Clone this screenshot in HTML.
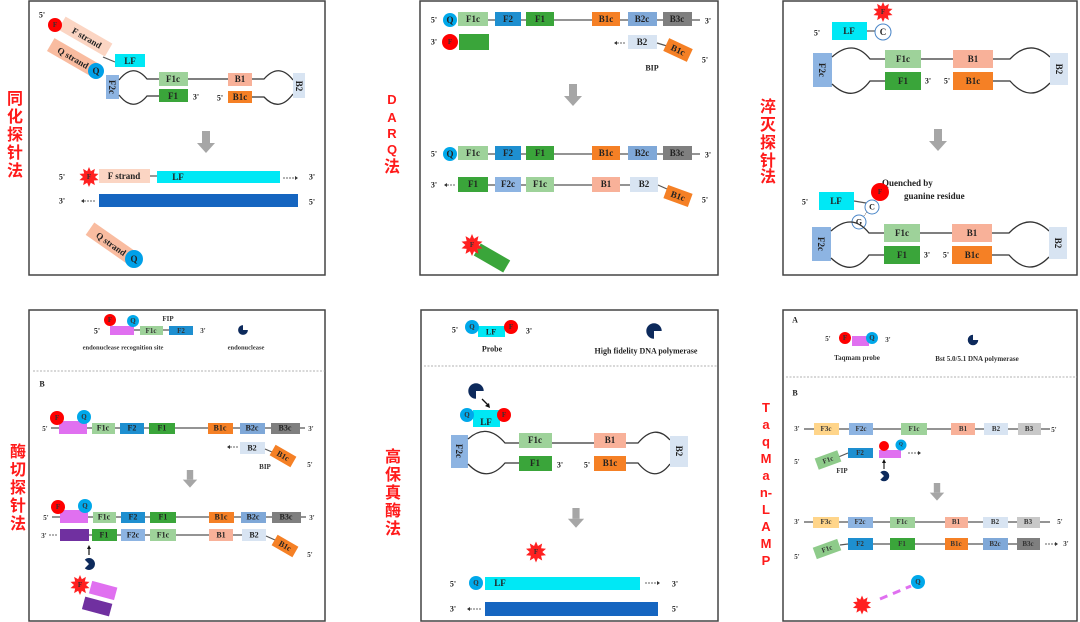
<!DOCTYPE html>
<html><head><meta charset="utf-8"><style>
html,body{margin:0;padding:0;background:#fff;}
svg{display:block;}
.t{font-family:"Liberation Serif",serif;font-weight:bold;font-size:9px;fill:#222;text-anchor:middle;dominant-baseline:central;}
.s{font-family:"Liberation Serif",serif;font-weight:bold;font-size:8px;fill:#222;text-anchor:middle;dominant-baseline:central;}
.x{font-family:"Liberation Serif",serif;font-weight:bold;font-size:7px;fill:#333;text-anchor:middle;dominant-baseline:central;}
.cn{font-family:"Liberation Sans","Noto Sans CJK SC",sans-serif;font-weight:bold;font-size:16px;fill:#ff1a1a;text-anchor:middle;}
.ln{stroke:#555;stroke-width:1.2;fill:none;}
.lp{stroke:#333;stroke-width:1.3;fill:none;}
.fr{fill:none;stroke:#444;stroke-width:1.5;}
</style></head><body>
<svg width="1080" height="622" viewBox="0 0 1080 622" xmlns="http://www.w3.org/2000/svg">
<defs>
<polygon id="star" points="0,-10 1.85,-5.71 5.88,-8.09 4.85,-3.53 9.51,-3.09 6,0 9.51,3.09 4.85,3.53 5.88,8.09 1.85,5.71 0,10 -1.85,5.71 -5.88,8.09 -4.85,3.53 -9.51,3.09 -6,0 -9.51,-3.09 -4.85,-3.53 -5.88,-8.09 -1.85,-5.71" fill="#ff2020"/>
<path id="pac" d="M0,0 L7,0 A7,7 0 1,1 0,-7 Z" fill="#0d2a5c"/>
<g id="garrow"><rect x="-4" y="0" width="8" height="12" fill="#a6a6a6"/><polygon points="-9,12 9,12 0,22" fill="#a6a6a6"/></g>
</defs>

<!-- frames -->
<rect class="fr" x="29" y="1" width="296" height="274"/>
<rect class="fr" x="420" y="1" width="298" height="274"/>
<rect class="fr" x="783" y="1" width="294" height="274"/>
<rect class="fr" x="29" y="310" width="296" height="311"/>
<rect class="fr" x="421" y="310" width="297" height="311"/>
<rect class="fr" x="783" y="310" width="294" height="311"/>

<!-- Chinese labels -->
<g class="cn">
<text x="15" y="104">同</text><text x="15" y="122">化</text><text x="15" y="140">探</text><text x="15" y="158">针</text><text x="15" y="176">法</text>
<text x="392" y="104" style="font-size:13px">D</text><text x="392" y="122" style="font-size:13px">A</text><text x="392" y="138" style="font-size:13px">R</text><text x="392" y="154" style="font-size:13px">Q</text><text x="392" y="172">法</text>
<text x="768" y="112">淬</text><text x="768" y="130">灭</text><text x="768" y="148">探</text><text x="768" y="166">针</text><text x="768" y="182">法</text>
<text x="18" y="457">酶</text><text x="18" y="475">切</text><text x="18" y="493">探</text><text x="18" y="511">针</text><text x="18" y="529">法</text>
<text x="393" y="462">高</text><text x="393" y="480">保</text><text x="393" y="498">真</text><text x="393" y="516">酶</text><text x="393" y="534">法</text>
<g style="font-size:13px"><text x="766" y="412">T</text><text x="766" y="429">a</text><text x="766" y="446">q</text><text x="766" y="463">M</text><text x="766" y="480">a</text><text x="766" y="497">n-</text><text x="766" y="514">L</text><text x="766" y="531">A</text><text x="766" y="548">M</text><text x="766" y="565">P</text></g>
</g>

<!-- ===== Panel 1 ===== -->
<text class="s" x="42" y="15">5'</text>
<g transform="translate(85,37) rotate(30)"><rect x="-27" y="-8" width="54" height="15" fill="#fbd5c3"/><text class="t" x="2" y="0">F strand</text></g>
<circle cx="55" cy="25" r="7" fill="#f00"/><text class="x" x="55" y="25">F</text>
<g transform="translate(73,58) rotate(30)"><rect x="-26" y="-8" width="52" height="15" fill="#f9bca0"/><text class="t" x="0" y="0">Q strand</text></g>
<circle cx="96" cy="71" r="8" fill="#00a0e8"/><text class="t" x="96" y="71">Q</text>
<line class="ln" x1="103" y1="57" x2="115" y2="62"/>
<rect x="115" y="54" width="30" height="13" fill="#00e8f5"/><text class="t" x="130" y="61">LF</text>
<rect x="106" y="75" width="13" height="24" fill="#8db4e2"/><text class="t" transform="translate(112,87) rotate(90)">F2c</text>
<path class="lp" d="M119,80 Q133,62 147,79 L159,79 M119,95 Q133,113 147,96 L159,96 M188,79 L228,79 M252,79 L264,79 Q279,62 293,80 M252,97 L264,97 Q279,113 293,94"/>
<rect x="159" y="72" width="29" height="14" fill="#9ed29a"/><text class="t" x="173" y="79">F1c</text>
<rect x="159" y="89" width="29" height="13" fill="#3aa53a"/><text class="t" x="173" y="96">F1</text>
<text class="s" x="196" y="97">3'</text><text class="s" x="220" y="98">5'</text>
<rect x="228" y="73" width="24" height="13" fill="#f8b199"/><text class="t" x="240" y="79">B1</text>
<rect x="228" y="91" width="24" height="12" fill="#f58025"/><text class="t" x="240" y="97">B1c</text>
<rect x="293" y="73" width="12" height="25" fill="#d8e4f2"/><text class="t" transform="translate(299,86) rotate(90)">B2</text>
<use href="#garrow" transform="translate(206,131)"/>
<text class="s" x="62" y="177">5'</text>
<use href="#star" transform="translate(89,177)"/><text class="x" x="89" y="177">F</text>
<rect x="99" y="169" width="51" height="14" fill="#fbd5c3"/><text class="t" x="124" y="176">F strand</text>
<line class="ln" x1="150" y1="176" x2="157" y2="176"/>
<rect x="157" y="171" width="123" height="12" fill="#00e8f5"/><text class="t" x="178" y="177">LF</text>
<line x1="283" y1="178" x2="295" y2="178" stroke="#333" stroke-width="0.8" stroke-dasharray="2,1"/><polygon points="295,176 298,178 295,180" fill="#333"/>
<text class="s" x="312" y="177">3'</text>
<text class="s" x="62" y="201">3'</text>
<line x1="84" y1="201" x2="96" y2="201" stroke="#333" stroke-width="0.8" stroke-dasharray="2,1"/><polygon points="84,199 81,201 84,203" fill="#333"/>
<rect x="99" y="194" width="199" height="13" fill="#1565c0"/>
<text class="s" x="312" y="202">5'</text>
<g transform="translate(111,244) rotate(35)"><rect x="-26" y="-8" width="52" height="15" fill="#f9bca0"/><text class="t" x="0" y="0">Q strand</text></g>
<circle cx="134" cy="259" r="9" fill="#00a0e8"/><text class="t" x="134" y="259">Q</text>

<!-- ===== Panel 2 ===== -->
<g id="darqrow">
<text class="s" x="434" y="20">5'</text>
<circle cx="450" cy="20" r="7" fill="#00a8ea"/><text class="t" x="450" y="20">Q</text>
<line class="ln" x1="458" y1="20" x2="700" y2="20"/>
<rect x="458" y="12" width="30" height="14" fill="#9ed29a"/><text class="t" x="473" y="19">F1c</text>
<rect x="495" y="12" width="26" height="14" fill="#1e8fd0"/><text class="t" x="508" y="19">F2</text>
<rect x="526" y="12" width="28" height="14" fill="#3aa53a"/><text class="t" x="540" y="19">F1</text>
<rect x="592" y="12" width="28" height="14" fill="#f58025"/><text class="t" x="606" y="19">B1c</text>
<rect x="628" y="12" width="29" height="14" fill="#7fa8d8"/><text class="t" x="642" y="19">B2c</text>
<rect x="663" y="12" width="29" height="14" fill="#7f7f7f"/><text class="t" x="677" y="19">B3c</text>
<text class="s" x="708" y="21">3'</text>
</g>
<text class="s" x="434" y="42">3'</text>
<rect x="459" y="34" width="30" height="16" fill="#3aa53a"/>
<circle cx="450" cy="42" r="8" fill="#f00"/><text class="x" x="450" y="42">F</text>
<line x1="617" y1="43" x2="626" y2="43" stroke="#333" stroke-width="0.8" stroke-dasharray="2,1"/><polygon points="617,41 614,43 617,45" fill="#333"/>
<rect x="628" y="35" width="29" height="14" fill="#d8e4f2"/><text class="t" x="642" y="42">B2</text>
<line class="ln" x1="657" y1="43" x2="667" y2="46"/>
<g transform="translate(678,50) rotate(25)"><rect x="-13" y="-7" width="26" height="14" fill="#f58025"/><text class="t" x="0" y="0">B1c</text></g>
<text class="s" x="705" y="60">5'</text><text class="s" x="652" y="68">BIP</text>
<use href="#garrow" transform="translate(573,84)"/>
<use href="#darqrow" transform="translate(0,134)"/>
<text class="s" x="434" y="185">3'</text>
<line x1="447" y1="185" x2="456" y2="185" stroke="#333" stroke-width="0.8" stroke-dasharray="2,1"/><polygon points="447,183 444,185 447,187" fill="#333"/>
<line class="ln" x1="488" y1="185" x2="630" y2="185"/>
<rect x="458" y="177" width="30" height="15" fill="#3aa53a"/><text class="t" x="473" y="184">F1</text>
<rect x="495" y="177" width="26" height="15" fill="#8db4e2"/><text class="t" x="508" y="184">F2c</text>
<rect x="526" y="177" width="28" height="15" fill="#9ed29a"/><text class="t" x="540" y="184">F1c</text>
<rect x="592" y="177" width="28" height="15" fill="#f8b199"/><text class="t" x="606" y="184">B1</text>
<rect x="630" y="177" width="28" height="15" fill="#d8e4f2"/><text class="t" x="644" y="184">B2</text>
<line class="ln" x1="658" y1="185" x2="667" y2="189"/>
<g transform="translate(678,196) rotate(20)"><rect x="-13" y="-7" width="26" height="14" fill="#f58025"/><text class="t" x="0" y="0">B1c</text></g>
<text class="s" x="705" y="200">5'</text>
<g transform="translate(492,258) rotate(30)"><rect x="-17" y="-7" width="34" height="14" fill="#3aa53a"/></g>
<use href="#star" transform="translate(472,245) scale(1.1)"/><text class="x" x="472" y="245">F</text>

<!-- ===== Panel 3 ===== -->
<text class="s" x="817" y="33">5'</text>
<rect x="832" y="22" width="35" height="18" fill="#00e8f5"/><text class="t" x="849" y="31">LF</text>
<line class="ln" x1="867" y1="31" x2="875" y2="31"/>
<circle cx="883" cy="32" r="8" fill="#fff" stroke="#4a86c8" stroke-width="1"/><text class="t" x="883" y="32">C</text>
<use href="#star" transform="translate(883,12)"/><text class="x" x="883" y="12">F</text>
<g id="p3loop">
<rect x="813" y="53" width="19" height="34" fill="#8db4e2"/><text class="t" transform="translate(822,70) rotate(90)">F2c</text>
<path class="lp" d="M832,57 Q853,38 870,59 L885,59 M832,84 Q853,104 870,81 L885,81 M921,59 L953,59 M993,59 L1010,59 Q1030,38 1050,57 M993,81 L1010,81 Q1030,104 1050,83"/>
<rect x="885" y="50" width="36" height="18" fill="#9ed29a"/><text class="t" x="903" y="59">F1c</text>
<rect x="885" y="72" width="36" height="18" fill="#3aa53a"/><text class="t" x="903" y="81">F1</text>
<text class="s" x="928" y="81">3'</text><text class="s" x="947" y="81">5'</text>
<rect x="953" y="50" width="40" height="18" fill="#f8b199"/><text class="t" x="973" y="59">B1</text>
<rect x="953" y="72" width="40" height="18" fill="#f58025"/><text class="t" x="973" y="81">B1c</text>
<rect x="1050" y="53" width="18" height="32" fill="#d8e4f2"/><text class="t" transform="translate(1059,69) rotate(90)">B2</text>
</g>
<use href="#garrow" transform="translate(938,129)"/>
<text class="t" x="882" y="183" style="text-anchor:start">Quenched by</text>
<text class="t" x="904" y="196" style="text-anchor:start">guanine residue</text>
<text class="s" x="805" y="202">5'</text>
<rect x="819" y="192" width="35" height="18" fill="#00e8f5"/><text class="t" x="836" y="201">LF</text>
<line class="ln" x1="854" y1="201" x2="866" y2="203"/>
<circle cx="880" cy="192" r="9" fill="#f00"/><text class="x" x="880" y="192">F</text>
<circle cx="872" cy="207" r="7" fill="#fff" stroke="#4a86c8" stroke-width="1"/><text class="s" x="872" y="207">C</text>
<line x1="867" y1="212" x2="863" y2="217" stroke="#666" stroke-width="0.8" stroke-dasharray="1,1"/>
<circle cx="859" cy="222" r="7" fill="#fff" stroke="#4a86c8" stroke-width="1"/><text class="s" x="859" y="222">G</text>
<use href="#p3loop" transform="translate(-1,174)"/>

<!-- ===== Panel 4 ===== -->
<text class="s" x="97" y="331">5'</text>
<rect x="110" y="326" width="24" height="9" fill="#e070f0"/>
<circle cx="110" cy="320" r="6" fill="#f00"/><text class="x" x="110" y="320">F</text>
<circle cx="133" cy="321" r="6" fill="#00a8ea"/><text class="x" x="133" y="321">Q</text>
<line class="ln" x1="134" y1="330" x2="169" y2="330"/>
<rect x="140" y="326" width="23" height="9" fill="#9ed29a"/><text class="x" x="151" y="331">F1c</text>
<rect x="169" y="326" width="24" height="9" fill="#1e8fd0"/><text class="x" x="181" y="331">F2</text>
<text class="x" x="203" y="331">3'</text><text class="x" x="168" y="319">FIP</text>
<use href="#pac" transform="translate(243,330) scale(0.7)"/>
<text class="x" x="123" y="348" style="font-size:6.5px">endonuclease recognition site</text>
<text class="x" x="246" y="348" style="font-size:6.5px">endonuclease</text>
<line x1="33" y1="371" x2="325" y2="371" stroke="#999" stroke-width="0.8" stroke-dasharray="2,1.5"/>
<text class="s" x="42" y="384">B</text>
<g id="endrow">
<text class="x" x="45" y="429">5'</text>
<line class="ln" x1="51" y1="428" x2="305" y2="428"/>
<rect x="59" y="421" width="28" height="13" fill="#e070f0"/>
<circle cx="57" cy="418" r="7" fill="#f00"/><text class="x" x="57" y="418">F</text>
<circle cx="84" cy="417" r="7" fill="#00a8ea"/><text class="x" x="84" y="417">Q</text>
<rect x="92" y="423" width="23" height="11" fill="#9ed29a"/><text class="s" x="103" y="428">F1c</text>
<rect x="120" y="423" width="24" height="11" fill="#1e8fd0"/><text class="s" x="132" y="428">F2</text>
<rect x="149" y="423" width="26" height="11" fill="#3aa53a"/><text class="s" x="162" y="428">F1</text>
<rect x="208" y="423" width="25" height="11" fill="#f58025"/><text class="s" x="220" y="428">B1c</text>
<rect x="240" y="423" width="25" height="11" fill="#7fa8d8"/><text class="s" x="252" y="428">B2c</text>
<rect x="271" y="423" width="29" height="11" fill="#7f7f7f"/><text class="s" x="285" y="428">B3c</text>
<text class="x" x="311" y="429">3'</text>
</g>
<line x1="230" y1="447" x2="238" y2="447" stroke="#333" stroke-width="0.8" stroke-dasharray="2,1"/><polygon points="230,445 227,447 230,449" fill="#333"/>
<rect x="240" y="442" width="25" height="12" fill="#d8e4f2"/><text class="s" x="252" y="448">B2</text>
<line class="ln" x1="265" y1="449" x2="272" y2="452"/>
<g transform="translate(283,456) rotate(30)"><rect x="-12" y="-6" width="24" height="12" fill="#f58025"/><text class="s" x="0" y="0">B1c</text></g>
<text class="x" x="265" y="467">BIP</text><text class="x" x="310" y="465">5'</text>
<use href="#garrow" transform="translate(190,470) scale(0.8)"/>
<use href="#endrow" transform="translate(1,89)"/>
<text class="x" x="44" y="536">3'</text>
<line x1="49" y1="535" x2="58" y2="535" stroke="#333" stroke-width="0.8" stroke-dasharray="2,1"/>
<line class="ln" x1="89" y1="535" x2="250" y2="535"/>
<rect x="60" y="529" width="29" height="12" fill="#7030a0"/>
<rect x="92" y="529" width="25" height="12" fill="#3aa53a"/><text class="s" x="104" y="535">F1</text>
<rect x="121" y="529" width="24" height="12" fill="#8db4e2"/><text class="s" x="133" y="535">F2c</text>
<rect x="150" y="529" width="26" height="12" fill="#9ed29a"/><text class="s" x="163" y="535">F1c</text>
<rect x="209" y="529" width="24" height="12" fill="#f8b199"/><text class="s" x="221" y="535">B1</text>
<rect x="242" y="529" width="24" height="12" fill="#d8e4f2"/><text class="s" x="254" y="535">B2</text>
<line class="ln" x1="266" y1="536" x2="275" y2="540"/>
<g transform="translate(285,546) rotate(30)"><rect x="-12" y="-6" width="24" height="12" fill="#f58025"/><text class="s" x="0" y="0">B1c</text></g>
<text class="x" x="310" y="555">5'</text>
<line x1="89" y1="555" x2="89" y2="548" stroke="#111" stroke-width="1.2"/><polygon points="87,549 89,545 91,549" fill="#111"/>
<use href="#pac" transform="translate(89,564) rotate(-135) scale(0.85)"/>
<g transform="translate(103,591) rotate(15)"><rect x="-13" y="-7" width="26" height="13" fill="#e070f0"/></g>
<g transform="translate(97,607) rotate(15)"><rect x="-14" y="-7" width="28" height="13" fill="#7030a0"/></g>
<use href="#star" transform="translate(80,585)"/><text class="x" x="80" y="585">F</text>

<!-- ===== Panel 5 ===== -->
<text class="s" x="455" y="330">5'</text>
<rect x="478" y="326" width="27" height="11" fill="#00e8f5"/><text class="s" x="491" y="332">LF</text>
<circle cx="472" cy="327" r="7" fill="#00a8ea"/><text class="x" x="472" y="327">Q</text>
<circle cx="511" cy="327" r="7" fill="#f00"/><text class="x" x="511" y="327">F</text>
<text class="s" x="529" y="331">3'</text>
<text class="s" x="492" y="349">Probe</text>
<use href="#pac" transform="translate(654,331) rotate(90) scale(1.1)"/>
<text class="s" x="646" y="351">High fidelity DNA polymerase</text>
<line x1="424" y1="366" x2="718" y2="366" stroke="#999" stroke-width="0.8" stroke-dasharray="2,1.5"/>
<use href="#pac" transform="translate(476,391) rotate(90) scale(1.1)"/>
<line x1="482" y1="399" x2="488" y2="405" stroke="#111" stroke-width="1.3"/><polygon points="485,406 490,408 489,403" fill="#111"/>
<rect x="473" y="410" width="27" height="17" fill="#00e8f5"/><text class="t" x="486" y="422">LF</text>
<circle cx="467" cy="415" r="7" fill="#00a8ea"/><text class="x" x="467" y="415">Q</text>
<circle cx="504" cy="415" r="7" fill="#f00"/><text class="x" x="504" y="415">F</text>
<rect x="451" y="435" width="17" height="33" fill="#8db4e2"/><text class="t" transform="translate(459,451) rotate(90)">F2c</text>
<path class="lp" d="M468,439 Q487,422 505,443 L519,443 M468,464 Q487,484 505,463 L519,463 M552,443 L594,443 M626,443 L638,443 Q655,423 670,440 M626,463 L638,463 Q655,484 670,464"/>
<rect x="519" y="433" width="33" height="15" fill="#9ed29a"/><text class="t" x="535" y="440">F1c</text>
<rect x="519" y="456" width="33" height="15" fill="#3aa53a"/><text class="t" x="535" y="463">F1</text>
<text class="s" x="560" y="465">3'</text><text class="s" x="587" y="465">5'</text>
<rect x="594" y="433" width="32" height="15" fill="#f8b199"/><text class="t" x="610" y="440">B1</text>
<rect x="594" y="456" width="32" height="15" fill="#f58025"/><text class="t" x="610" y="463">B1c</text>
<rect x="670" y="436" width="18" height="31" fill="#d8e4f2"/><text class="t" transform="translate(679,451) rotate(90)">B2</text>
<use href="#garrow" transform="translate(576,508) scale(0.9)"/>
<use href="#star" transform="translate(536,552) scale(1.05)"/><text class="x" x="536" y="552">F</text>
<text class="s" x="453" y="584">5'</text>
<rect x="485" y="577" width="155" height="13" fill="#00e8f5"/><text class="t" x="500" y="583">LF</text>
<circle cx="476" cy="583" r="7" fill="#00a8ea"/><text class="x" x="476" y="583">Q</text>
<line x1="645" y1="583" x2="657" y2="583" stroke="#333" stroke-width="0.8" stroke-dasharray="2,1"/><polygon points="657,581 660,583 657,585" fill="#333"/>
<text class="s" x="675" y="584">3'</text>
<text class="s" x="453" y="609">3'</text>
<line x1="470" y1="609" x2="482" y2="609" stroke="#333" stroke-width="0.8" stroke-dasharray="2,1"/><polygon points="470,607 467,609 470,611" fill="#333"/>
<rect x="485" y="602" width="173" height="14" fill="#1565c0"/>
<text class="s" x="675" y="609">5'</text>

<!-- ===== Panel 6 ===== -->
<text class="s" x="795" y="320">A</text>
<text class="x" x="828" y="339">5'</text>
<rect x="852" y="336" width="17" height="10" fill="#e070f0"/>
<circle cx="845" cy="338" r="6" fill="#f00"/><text class="x" x="845" y="338">F</text>
<circle cx="872" cy="338" r="6" fill="#00a8ea"/><text class="x" x="872" y="338">Q</text>
<text class="x" x="888" y="340">3'</text>
<text class="x" x="857" y="358">Taqmam probe</text>
<use href="#pac" transform="translate(973,340) scale(0.75)"/>
<text class="x" x="977" y="359">Bst 5.0/5.1 DNA polymerase</text>
<line x1="786" y1="377" x2="1077" y2="377" stroke="#999" stroke-width="0.8" stroke-dasharray="2,1.5"/>
<text class="s" x="795" y="393">B</text>
<text class="x" x="797" y="429">3'</text>
<line class="ln" x1="804" y1="429" x2="1050" y2="429"/>
<rect x="814" y="423" width="25" height="12" fill="#ffd58a"/><text class="x" x="826" y="429">F3c</text>
<rect x="849" y="423" width="24" height="12" fill="#8db4e2"/><text class="x" x="861" y="429">F2c</text>
<rect x="901" y="423" width="26" height="12" fill="#9ed29a"/><text class="x" x="914" y="429">F1c</text>
<rect x="951" y="423" width="24" height="12" fill="#f8b199"/><text class="x" x="963" y="429">B1</text>
<rect x="984" y="423" width="24" height="12" fill="#d8e4f2"/><text class="x" x="996" y="429">B2</text>
<rect x="1018" y="423" width="23" height="12" fill="#c8c8c8"/><text class="x" x="1029" y="429">B3</text>
<text class="x" x="1054" y="430">5'</text>
<text class="x" x="797" y="462">5'</text>
<line class="ln" x1="836" y1="458" x2="848" y2="453"/>
<g transform="translate(828,460) rotate(-20)"><rect x="-12" y="-6" width="24" height="12" fill="#8ecb8a"/><text class="x" x="0" y="0">F1c</text></g>
<rect x="848" y="448" width="25" height="10" fill="#1e8fd0"/><text class="x" x="860" y="453">F2</text>
<rect x="879" y="450" width="22" height="8" fill="#e070f0"/>
<circle cx="884" cy="446" r="5" fill="#f00"/><circle cx="901" cy="445" r="5.5" fill="#00a8ea"/><text class="x" x="901" y="445" style="font-size:5px">Q</text>
<line x1="908" y1="453" x2="918" y2="453" stroke="#333" stroke-width="0.8" stroke-dasharray="2,1"/><polygon points="918,451 921,453 918,455" fill="#333"/>
<text class="x" x="842" y="471">FIP</text>
<line x1="884" y1="469" x2="884" y2="462" stroke="#111" stroke-width="1.1"/><polygon points="882,463 884,459 886,463" fill="#111"/>
<use href="#pac" transform="translate(884,476) rotate(-135) scale(0.75)"/>
<use href="#garrow" transform="translate(937,483) scale(0.8)"/>
<text class="x" x="797" y="522">3'</text>
<line class="ln" x1="804" y1="522" x2="1050" y2="522"/>
<rect x="813" y="517" width="26" height="11" fill="#ffd58a"/><text class="x" x="826" y="522">F3c</text>
<rect x="848" y="517" width="25" height="11" fill="#8db4e2"/><text class="x" x="860" y="522">F2c</text>
<rect x="890" y="517" width="25" height="11" fill="#9ed29a"/><text class="x" x="902" y="522">F1c</text>
<rect x="945" y="517" width="23" height="11" fill="#f8b199"/><text class="x" x="956" y="522">B1</text>
<rect x="983" y="517" width="25" height="11" fill="#d8e4f2"/><text class="x" x="995" y="522">B2</text>
<rect x="1017" y="517" width="23" height="11" fill="#c8c8c8"/><text class="x" x="1028" y="522">B3</text>
<text class="x" x="1060" y="522">5'</text>
<line class="ln" x1="840" y1="545" x2="848" y2="544"/>
<line class="ln" x1="873" y1="544" x2="1017" y2="544"/>
<g transform="translate(827,549) rotate(-20)"><rect x="-13" y="-6" width="26" height="12" fill="#8ecb8a"/><text class="x" x="0" y="0">F1c</text></g>
<rect x="848" y="538" width="25" height="12" fill="#1e8fd0"/><text class="x" x="860" y="544">F2</text>
<rect x="890" y="538" width="25" height="12" fill="#3aa53a"/><text class="x" x="902" y="544">F1</text>
<rect x="945" y="538" width="23" height="12" fill="#f58025"/><text class="x" x="956" y="544">B1c</text>
<rect x="983" y="538" width="25" height="12" fill="#7fa8d8"/><text class="x" x="995" y="544">B2c</text>
<rect x="1017" y="538" width="23" height="12" fill="#7f7f7f"/><text class="x" x="1028" y="544">B3c</text>
<line x1="1045" y1="544" x2="1055" y2="544" stroke="#333" stroke-width="0.8" stroke-dasharray="2,1"/><polygon points="1055,542 1058,544 1055,546" fill="#333"/>
<text class="x" x="1066" y="544">3'</text>
<text class="x" x="797" y="557">5'</text>
<line x1="880" y1="599" x2="911" y2="586" stroke="#e070f0" stroke-width="3" stroke-dasharray="8,6"/>
<circle cx="918" cy="582" r="7" fill="#00a8ea"/><text class="x" x="918" y="582">Q</text>
<use href="#star" transform="translate(862,605) scale(0.95)"/>
</svg>
</body></html>
